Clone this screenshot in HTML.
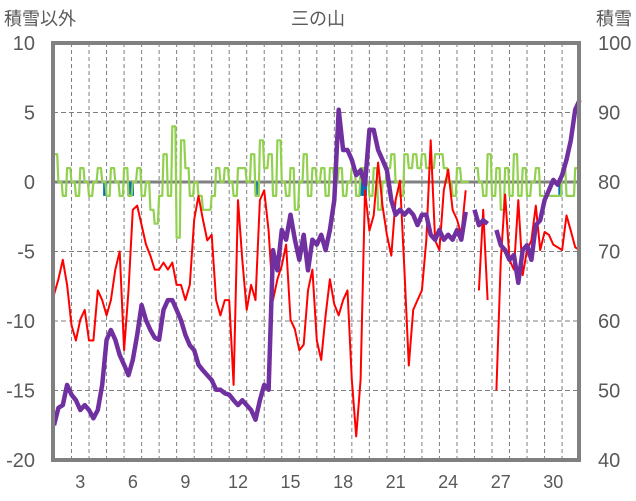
<!DOCTYPE html>
<html><head><meta charset="utf-8">
<style>
body{margin:0;background:#fff;}
svg{display:block;font-family:"Liberation Sans","Noto Sans CJK JP",sans-serif;}
</style></head>
<body>
<svg id="chart" width="636" height="501" xmlns="http://www.w3.org/2000/svg">
<text x="318" y="25" font-size="18" fill="#595959" text-anchor="middle">三の山</text>
<text x="4" y="25" font-size="18" fill="#595959">積雪以外</text>
<text x="632" y="25" font-size="18" fill="#595959" text-anchor="end">積雪</text>
<g id="grid"></g><g id="series"></g><g id="axes"></g>
</svg>
<script>
const leftTicks=[10,5,0,-5,-10,-15,-20];
const rightTicks=[100,90,80,70,60,50,40];
const dayLabels=[3,6,9,12,15,18,21,24,27,30];
const t0=2, dt=0.25;
const redVals=[-8.1,-7.0,-5.6,-7.4,-10.3,-11.4,-9.9,-9.2,-11.4,-11.4,-7.8,-8.5,-9.6,-8.5,-6.3,-5.0,-12.1,-7.8,-2.0,-1.7,-3.1,-4.5,-5.3,-6.3,-6.3,-5.8,-6.3,-5.8,-7.4,-7.4,-8.5,-7.4,-2.7,-1.0,-2.7,-4.2,-3.8,-8.5,-9.6,-8.5,-8.5,-14.6,-1.3,-5.6,-9.2,-7.4,-8.5,-1.3,-0.6,-3.5,-8.5,-7.0,-6.0,-4.5,-9.9,-10.6,-12.1,-11.7,-7.8,-6.3,-11.4,-12.8,-9.6,-7.0,-8.8,-9.6,-8.5,-7.8,-14.2,-18.3,-14.2,-0.6,-3.5,-2.4,1.4,-1.7,-3.8,-5.3,-1.3,0.1,-6.3,-13.2,-9.2,-8.5,-7.8,-4.2,3.0,-4.2,-4.9,-0.6,0.9,-2.0,-2.7,-3.8,-0.6,null,null,-7.8,-2.0,-8.5,null,-15.0,-5.6,-0.9,-5.6,-6.3,-1.3,-6.7,-4.9,-4.2,-1.7,-4.9,-3.6,-3.8,-4.5,-4.7,-4.9,-2.4,-3.5,-4.7,-4.9];
const snowVals=[45.0,47.5,47.9,50.8,49.4,48.6,47.2,47.9,47.2,46.0,47.2,50.8,57.3,58.7,57.3,55.1,53.7,52.2,54.4,58.0,62.3,60.1,58.7,57.6,57.3,61.6,63.0,63.0,61.6,60.1,58.0,56.5,55.8,53.7,52.9,52.2,51.5,50.1,50.1,49.6,49.4,48.6,47.9,48.6,47.9,47.2,45.8,48.6,50.8,50.1,70.2,67.3,73.1,71.7,75.3,71.7,68.8,72.4,67.3,71.7,71.0,72.4,70.2,73.1,77.4,90.4,84.6,84.6,83.2,81.0,81.7,79.6,87.5,87.5,84.6,83.2,81.7,77.4,75.3,76.0,75.3,76.0,75.3,73.8,75.3,75.3,72.4,71.7,73.1,71.7,72.4,71.7,73.1,71.7,75.7,null,76.0,73.8,74.5,74.0,null,73.1,70.9,70.2,68.8,69.5,65.5,70.2,70.9,68.8,73.8,74.5,77.4,78.8,80.3,79.6,81.0,83.2,86.0,90.4,91.8];
const greenVals=[2,0,-1,1,0,-1,1,0,-1,0,1,0,-1,1,0,-1,1,-1,0,1,-1,0,-2,-3,-1,2,-1,4,-4,3,1,-1,0,-1,-2,-2,-1,1,0,1,0,-1,1,1,0,2,-1,3,1,2,-1,3,0,-1,1,-2,0,2,-1,1,0,1,-1,1,0,1,-1,0,1,-1,1,0,-1,1,-2,0,1,2,0,-1,2,1,2,1,2,1,1,2,2,1,0,-1,1,0,0,null,1,0,-1,2,-1,1,-2,1,-1,2,-1,1,-1,0,1,-1,-1,-1,-1,-1,1,-1,-1,1,-1];
const blueDays=[4.92,6.3,6.45,13.62,19.55,19.75,30.9];
const blueVals=[-1,-1,-1,-1,-1,-1,-1];

const L=53,R=579,T=43,B=460;
const X=t=>54+(t-2)*17.52;
const YL=v=>T+(10-v)*(B-T)/30;
const YR=v=>T+(100-v)*(B-T)/60;
const NS='http://www.w3.org/2000/svg';
function mk(tag,attrs,parent){const e=document.createElementNS(NS,tag);for(const k in attrs)e.setAttribute(k,attrs[k]);parent.appendChild(e);return e;}
const grid=document.getElementById('grid'),series=document.getElementById('series'),axes=document.getElementById('axes');
for(let d=3;d<=31;d++){const l=mk('line',{x1:X(d),x2:X(d),y1:T,y2:B,stroke:'#7f7f7f','stroke-width':1,'stroke-dasharray':'4 3'},grid);

}
leftTicks.forEach(v=>{if(v!==0&&v!==10&&v!==-20){const l=mk('line',{x1:L,x2:R,y1:YL(v),y2:YL(v),stroke:'#7f7f7f','stroke-width':1,'stroke-dasharray':'5 3'},grid);

}});
const z=mk('line',{x1:L,x2:R,y1:YL(0),y2:YL(0),stroke:'#808080','stroke-width':3},grid);


function pathOf(vals,yf){let d='',pen=false;vals.forEach((v,i)=>{if(v===null){pen=false;return;}const x=X(t0+i*dt).toFixed(1),y=yf(v).toFixed(1);d+=(pen?'L':'M')+x+' '+y;pen=true;});return d;}
function stepOf(vals,yf){let d='',pen=false;vals.forEach((v,i)=>{if(v===null){pen=false;return;}const x0=X(t0+i*dt),x1=X(t0+(i+1)*dt)-1.2,y=yf(v).toFixed(1);d+=(pen?'L':'M')+x0.toFixed(1)+' '+y+'L'+Math.min(x1,R).toFixed(1)+' '+y;pen=true;});return d;}
blueDays.forEach((d,i)=>{const r=mk('rect',{x:X(d)-2,y:YL(0),width:4,height:YL(blueVals[i])-YL(0),fill:'#0070c0'},series);

});
const g=mk('path',{d:stepOf(greenVals,YL),fill:'none',stroke:'#92d050','stroke-width':2.2,'stroke-linejoin':'round'},series);


const r=mk('path',{d:pathOf(redVals,YL),fill:'none',stroke:'#ff0000','stroke-width':2,'stroke-linejoin':'round'},series);


const p=mk('path',{d:pathOf(snowVals,YR),fill:'none',stroke:'#7030a0','stroke-width':4.5,'stroke-linejoin':'round'},series);


const bd=mk('rect',{x:L,y:T,width:R-L,height:B-T,fill:'none',stroke:'#808080','stroke-width':4},axes);


leftTicks.forEach(v=>{const t=mk('text',{x:35,y:YL(v)+7,'font-size':20,fill:'#595959','text-anchor':'end'},axes);t.textContent=v;

});
rightTicks.forEach(v=>{const t=mk('text',{x:598,y:YR(v)+7,'font-size':20,fill:'#595959'},axes);t.textContent=v;

});
dayLabels.forEach(d=>{const t=mk('text',{x:X(d+0.5),y:488,'font-size':18,fill:'#595959','text-anchor':'middle'},axes);t.textContent=d;

});
</script>
</body></html>
